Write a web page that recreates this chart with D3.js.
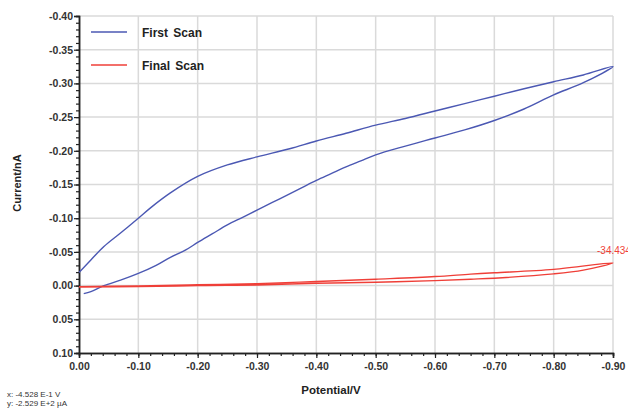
<!DOCTYPE html>
<html>
<head>
<meta charset="utf-8">
<script src="https://cdn.jsdelivr.net/npm/d3@7"></script>
<style>
  body { margin: 0; background: #fff; }
  svg text { font-family: "Liberation Sans", Arial, sans-serif; }
</style>
</head>
<body>
<svg id="chart" width="628" height="410"></svg>
<script>
// ===== data (potential V, current nA) =====
const xTickValues = [0, -0.1, -0.2, -0.3, -0.4, -0.5, -0.6, -0.7, -0.8, -0.9];
const xTickLabels = ["0.00", "-0.10", "-0.20", "-0.30", "-0.40", "-0.50", "-0.60", "-0.70", "-0.80", "-0.90"];
const yTickValues = [-0.4, -0.35, -0.3, -0.25, -0.2, -0.15, -0.1, -0.05, 0, 0.05, 0.1];
const yTickLabels = ["-0.40", "-0.35", "-0.30", "-0.25", "-0.20", "-0.15", "-0.10", "-0.05", "0.00", "0.05", "0.10"];

// first scan, outward sweep (lower branch)
const firstOut = [
  [-0.008, 0.012], [-0.02, 0.009], [-0.042, 0.0], [-0.07, -0.008], [-0.10, -0.018],
  [-0.13, -0.030], [-0.154, -0.042], [-0.18, -0.053], [-0.20, -0.064], [-0.225, -0.077],
  [-0.25, -0.090], [-0.275, -0.101], [-0.30, -0.112], [-0.325, -0.123], [-0.35, -0.134],
  [-0.375, -0.145], [-0.40, -0.156], [-0.425, -0.166], [-0.45, -0.176], [-0.475, -0.185],
  [-0.50, -0.194], [-0.55, -0.207], [-0.60, -0.219], [-0.65, -0.231], [-0.70, -0.245],
  [-0.75, -0.262], [-0.80, -0.283], [-0.85, -0.301], [-0.90, -0.325]
];
// first scan, return sweep (upper branch)
const firstBack = [
  [-0.90, -0.325], [-0.85, -0.3125], [-0.80, -0.3025], [-0.75, -0.292], [-0.70, -0.281],
  [-0.65, -0.270], [-0.60, -0.259], [-0.55, -0.248], [-0.50, -0.238], [-0.45, -0.226],
  [-0.40, -0.2145], [-0.355, -0.203], [-0.30, -0.191], [-0.25, -0.179], [-0.20, -0.162],
  [-0.154, -0.1375], [-0.12, -0.115], [-0.10, -0.10], [-0.07, -0.078],
  [-0.042, -0.058], [-0.02, -0.038], [0.0, -0.0193]
];
// final scan
const finalOut = [
  [0.0, 0.002], [-0.1, 0.0015], [-0.2, 0.0], [-0.3, -0.001], [-0.4, -0.0035],
  [-0.5, -0.005], [-0.6, -0.0074], [-0.66, -0.0095], [-0.70, -0.011], [-0.80, -0.0174],
  [-0.85, -0.023], [-0.90, -0.0337]
];
const finalBack = [
  [-0.90, -0.0337], [-0.80, -0.024], [-0.70, -0.019], [-0.66, -0.017], [-0.60, -0.0134],
  [-0.50, -0.0095], [-0.40, -0.006], [-0.30, -0.003], [-0.20, -0.0012], [-0.1, 0.0005],
  [0.0, 0.0015]
];
const series = [
  { name: "First Scan", color: "#4b58b3", points: firstOut.concat(firstBack.slice(1)) },
  { name: "Final Scan", color: "#ef3f38", points: finalOut.concat(finalBack.slice(1)) }
];
const endLabel = "-34.434";

// ===== layout =====
const svg = d3.select("#chart");
const plot = { left: 79, right: 613, top: 16, bottom: 353 };

const x = d3.scaleLinear().domain([0, -0.9]).range([plot.left, plot.right]);
const y = d3.scaleLinear().domain([-0.4, 0.1]).range([plot.top, plot.bottom]);

svg.append("rect").attr("width", 628).attr("height", 410).attr("fill", "#fff");

// grid
const grid = svg.append("g");
grid.selectAll("line.v")
  .data(xTickValues.slice(1))
  .enter().append("line")
  .attr("x1", (d) => x(d)).attr("x2", (d) => x(d))
  .attr("y1", plot.top).attr("y2", plot.bottom)
  .attr("stroke", "#dadada").attr("stroke-width", 1.5);
grid.selectAll("line.h")
  .data(yTickValues.slice(0, -1))
  .enter().append("line")
  .attr("x1", plot.left).attr("x2", plot.right)
  .attr("y1", (d) => y(d)).attr("y2", (d) => y(d))
  .attr("stroke", "#dadada").attr("stroke-width", 1.5);

// minor ticks
const xMinor = d3.range(0, 46).map((i) => -i * 0.02).filter((v) => v >= -0.9001);
const yMinor = d3.range(0, 51).map((i) => -0.4 + i * 0.01);

const xAxisMinor = d3.axisBottom(x).tickValues(xMinor).tickSize(3).tickFormat("");
const xAxis = d3.axisBottom(x).tickValues(xTickValues).tickSize(5)
  .tickFormat((d, i) => xTickLabels[i]);
const yAxisMinor = d3.axisLeft(y).tickValues(yMinor).tickSize(3).tickFormat("");
const yAxis = d3.axisLeft(y).tickValues(yTickValues).tickSize(5)
  .tickFormat((d, i) => yTickLabels[i]);

const axisStyle = (g) => {
  g.selectAll("path.domain").attr("stroke", "#222").attr("stroke-width", 1.5);
  g.selectAll("line").attr("stroke", "#222").attr("stroke-width", 1.2);
  g.selectAll("text").attr("fill", "#333").style("font-size", "10.5px")
    .style("font-weight", "bold")
    .style("font-family", "'Liberation Sans', Arial, sans-serif");
};

svg.append("g").attr("transform", `translate(0,${plot.bottom})`).call(xAxisMinor).call(axisStyle);
svg.append("g").attr("transform", `translate(0,${plot.bottom})`).call(xAxis).call(axisStyle)
  .selectAll("text").attr("dy", "0.9em");
svg.append("g").attr("transform", `translate(${plot.left},0)`).call(yAxisMinor).call(axisStyle);
svg.append("g").attr("transform", `translate(${plot.left},0)`).call(yAxis).call(axisStyle)
  .selectAll("text").attr("x", -6);

// curves
const line = d3.line()
  .x((d) => x(d[0]))
  .y((d) => y(d[1]))
  .curve(d3.curveCatmullRom.alpha(0.5));

svg.append("g").selectAll("path")
  .data(series)
  .enter().append("path")
  .attr("d", (d) => line(d.points))
  .attr("fill", "none")
  .attr("stroke", (d) => d.color)
  .attr("stroke-width", 1.4);

// legend
const legend = svg.append("g");
series.forEach((s, i) => {
  const ly = 32 + i * 33;
  legend.append("line")
    .attr("x1", 91).attr("x2", 127).attr("y1", ly).attr("y2", ly)
    .attr("stroke", s.color).attr("stroke-width", 1.5);
  legend.append("text")
    .attr("x", 142).attr("y", ly + 4.5)
    .attr("font-size", 12).attr("font-weight", "bold").attr("fill", "#222")
    .attr("word-spacing", 2)
    .text(s.name);
});

// end value label (cut at the right edge as in the source)
const last = series[1].points[finalOut.length - 1];
svg.append("text")
  .attr("x", x(last[0]) - 16).attr("y", y(last[1]) - 9)
  .attr("font-size", 10).attr("fill", "#ef3f38")
  .text(endLabel);

// axis titles
svg.append("text")
  .attr("transform", "translate(21,183) rotate(-90)")
  .attr("text-anchor", "middle")
  .attr("font-size", 11).attr("font-weight", "bold").attr("fill", "#222")
  .text("Current/nA");
svg.append("text")
  .attr("x", 331).attr("y", 394)
  .attr("text-anchor", "middle")
  .attr("font-size", 11.5).attr("font-weight", "bold").attr("fill", "#222")
  .text("Potential/V");

// cursor readout
svg.append("text").attr("x", 7).attr("y", 397)
  .attr("font-size", 8).attr("fill", "#333").text("x: -4.528 E-1 V");
svg.append("text").attr("x", 7).attr("y", 406)
  .attr("font-size", 8).attr("fill", "#333").text("y: -2.529 E+2 µA");
</script>
</body>
</html>
